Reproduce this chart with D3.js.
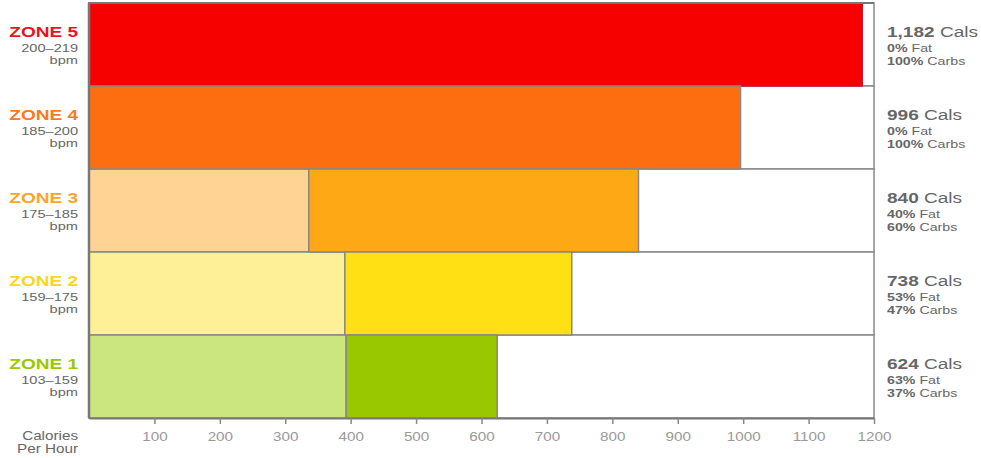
<!DOCTYPE html>
<html><head><meta charset="utf-8">
<script src="https://cdn.jsdelivr.net/npm/d3@7"></script>
<style>body{margin:0;background:#fff;font-family:"Liberation Sans",Arial,sans-serif;}</style>
</head><body><svg id="c" width="981" height="458"></svg>
<script>
const zones = ["ZONE 5","ZONE 4","ZONE 3","ZONE 2","ZONE 1"];
const bpm = ["200–219","185–200","175–185","159–175","103–159"];
const totalCals = [1182, 996, 840, 738, 624];
const fatPct = [0, 0, 40, 53, 63];
const carbPct = [100, 100, 60, 47, 37];
const tickValues = [100,200,300,400,500,600,700,800,900,1000,1100,1200];
const labelColors = ["#ee1122","#fb7a1e","#fba42a","#fdd520","#99c800"];
const fatColors = ["#f70000","#fd6e10","#fed393","#fef096","#cbe57f"];
const carbColors = ["#f70000","#fd6e10","#fda814","#fee014","#99c800"];

const svg = d3.select("#c");
const m = {l:89, t:3, r:107, b:40};
const W = 981 - m.l - m.r, H = 418 - m.t;
const x = d3.scaleLinear().domain([0,1200]).range([m.l, m.l + W]);
const y = d3.scaleBand().domain(zones).range([m.t, m.t + H]);
const grey = "#666";
const SX = 1.27;

const data = zones.map((z,i)=>({z, i, total: totalCals[i], fat: totalCals[i]*fatPct[i]/100}));

const g = svg.append("g");
g.selectAll("rect.row").data(data).join("rect")
  .attr("x", x(0)).attr("y", d=>y(d.z)).attr("width", x(1200)-x(0)).attr("height", y.bandwidth())
  .attr("fill","#fff").attr("stroke","#888").attr("stroke-width",1.5);
g.selectAll("rect.fat").data(data.filter(d=>d.fat>0)).join("rect")
  .attr("x", x(0)).attr("y", d=>y(d.z)).attr("width", d=>x(d.fat)-x(0)).attr("height", y.bandwidth())
  .attr("fill", d=>fatColors[d.i]).attr("stroke","#888").attr("stroke-width",1.5);
g.selectAll("rect.carb").data(data).join("rect")
  .attr("x", d=>x(d.fat)).attr("y", d=>y(d.z)).attr("width", d=>x(d.total)-x(d.fat)).attr("height", y.bandwidth())
  .attr("fill", d=>carbColors[d.i]).attr("stroke", d=>d.i===0?"#c8102e":"#888").attr("stroke-width",1.5);
g.append("line").attr("x1",x(0)).attr("x2",x(0)).attr("y1",m.t).attr("y2",m.t+H).attr("stroke","#777").attr("stroke-width",2.5);
g.append("line").attr("x1",x(0)).attr("x2",x(1200)).attr("y1",m.t).attr("y2",m.t).attr("stroke","#777").attr("stroke-width",2);

const ax = svg.append("g").attr("transform",`translate(0,${m.t+H})`)
  .call(d3.axisBottom(x).tickValues(tickValues).tickFormat(d3.format("d")).tickSize(6).tickSizeOuter(0).tickPadding(8));
ax.select(".domain").attr("stroke","#777").attr("stroke-width",2);
ax.selectAll(".tick line").attr("stroke","#888").attr("stroke-width",1.5);
ax.selectAll(".tick text").attr("fill","#999").attr("font-size",12)
  .attr("font-family","Liberation Sans, Arial, sans-serif").attr("transform",`scale(${SX},1)`);

const lab = svg.append("g");
function txt(px, py, anchor, size){
  return lab.append("text").attr("transform",`translate(${px},${py}) scale(${SX},1)`)
    .attr("text-anchor",anchor).attr("font-size",size).attr("fill",grey);
}
data.forEach(d=>{
  const y0 = y(d.z);
  txt(78, y0+33.5, "end", 15).attr("font-weight","bold").attr("fill",labelColors[d.i]).text(d.z);
  txt(78, y0+49, "end", 11.5).text(bpm[d.i]);
  txt(78, y0+61, "end", 11.5).text("bpm");
  const t = txt(887, y0+33.5, "start", 15);
  t.append("tspan").attr("font-weight","bold").text(d3.format(",")(d.total));
  t.append("tspan").text(" Cals");
  const f = txt(887, y0+48.5, "start", 11.2);
  f.append("tspan").attr("font-weight","bold").text(fatPct[d.i]+"%");
  f.append("tspan").text(" Fat");
  const c = txt(887, y0+61.5, "start", 11.2);
  c.append("tspan").attr("font-weight","bold").text(carbPct[d.i]+"%");
  c.append("tspan").text(" Carbs");
});
txt(78, 440, "end", 12).text("Calories");
txt(78, 453, "end", 12).text("Per Hour");
</script></body></html>
